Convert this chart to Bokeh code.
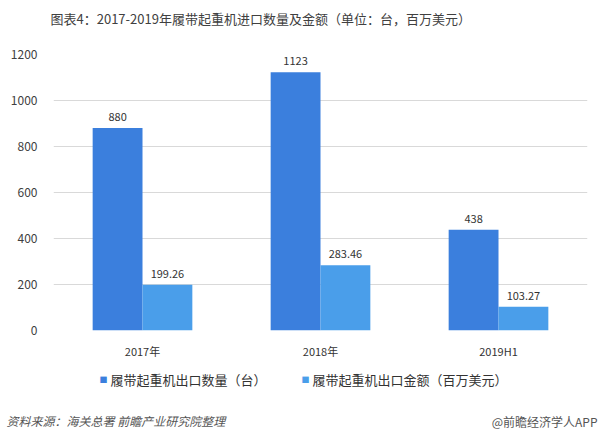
from bokeh.plotting import figure
from bokeh.layouts import column
from bokeh.models import ColumnDataSource, FactorRange, Range1d, LabelSet, Label, FixedTicker
from bokeh.transform import dodge
from bokeh.core.properties import value
from bokeh.embed import file_html
from bokeh.resources import INLINE

categories = ["2017年", "2018年", "2019H1"]
quantity = [880, 1123, 438]
amount = [199.26, 283.46, 103.27]
quantity_labels = ["880", "1123", "438"]
amount_labels = ["199.26", "283.46", "103.27"]
y_ticks = [0, 200, 400, 600, 800, 1000, 1200]

title_text = "图表4：2017-2019年履带起重机进口数量及金额（单位：台，百万美元）"
series_names = ["履带起重机出口数量（台）", "履带起重机出口金额（百万美元）"]
source_text = "资料来源：海关总署 前瞻产业研究院整理"
brand_text = "@前瞻经济学人APP"

FONT = "Noto Sans CJK SC"
DARK = "#3b7fdd"
LIGHT = "#4a9eea"
colors = [DARK, LIGHT]


def text_strip(h):
    f = figure(width=600, height=h, x_range=Range1d(0, 600), y_range=Range1d(0, h),
               min_border=0, output_backend="svg", toolbar_location=None,
               x_axis_type=None, y_axis_type=None, outline_line_color=None,
               background_fill_color="white", border_fill_color="white",
               frame_align=False)
    f.grid.visible = False
    return f


# ---- title strip (36 px) ----
top = text_strip(36)
top.add_layout(Label(x=50, y=18, text=title_text, text_font=FONT,
                     text_font_size="13px", text_color="#404040",
                     text_baseline="middle"))

# ---- main chart (326 px) ----
src = ColumnDataSource(dict(cat=categories, q=quantity, a=amount,
                            ql=quantity_labels, al=amount_labels))

p = figure(x_range=FactorRange(*categories, range_padding=0),
           y_range=Range1d(0, 1200),
           frame_width=534, frame_height=276,
           min_border_left=53, min_border_right=13,
           min_border_top=18, min_border_bottom=32,
           output_backend="svg", toolbar_location=None,
           background_fill_color="white", border_fill_color="white",
           outline_line_color=None, frame_align=False)

p.vbar(x=dodge("cat", -0.14, range=p.x_range), top="q", width=0.28,
       source=src, fill_color=DARK, line_color=None)
p.vbar(x=dodge("cat", 0.14, range=p.x_range), top="a", width=0.28,
       source=src, fill_color=LIGHT, line_color=None)

for col, lab, off in [("q", "ql", -0.14), ("a", "al", 0.14)]:
    ls = LabelSet(x=dodge("cat", off, range=p.x_range), y=col, text=lab, source=src,
                  text_align="center", text_baseline="bottom", y_offset=7,
                  text_font=value(FONT), text_font_size=value("11px"),
                  text_color="#333333")
    p.add_layout(ls)

p.yaxis.ticker = FixedTicker(ticks=y_ticks)
p.yaxis.axis_line_color = None
p.yaxis.major_tick_line_color = None
p.yaxis.minor_tick_line_color = None
p.yaxis.major_tick_out = 0
p.yaxis.major_label_standoff = 16
p.yaxis.major_label_text_font = FONT
p.yaxis.major_label_text_font_size = "12px"
p.yaxis.major_label_text_color = "#404040"

p.xaxis.axis_line_color = None
p.xaxis.major_tick_line_color = None
p.xaxis.minor_tick_line_color = None
p.xaxis.major_label_standoff = 6
p.xaxis.major_label_text_font = FONT
p.xaxis.major_label_text_font_size = "11px"
p.xaxis.major_label_text_color = "#333333"

p.xgrid.grid_line_color = None
p.ygrid.grid_line_color = "#d9d9d9"

# ---- legend + footer strip (77 px) ----
bot = text_strip(77)
for (sq_x, tx_x), name, c in zip([(99, 110), (301, 312)], series_names, colors):
    bot.add_layout(Label(x=sq_x, y=60.5, text="■", text_font=FONT,
                         text_font_size="8px", text_color=c, text_baseline="middle"))
    bot.add_layout(Label(x=tx_x, y=60.5, text=name, text_font=FONT,
                         text_font_size="13px", text_color="#333333",
                         text_baseline="middle"))
bot.add_layout(Label(x=6, y=19, text=source_text, text_font=FONT,
                     text_font_size="12px", text_color="#555555",
                     text_font_style="italic", text_baseline="middle"))
bot.add_layout(Label(x=597, y=18, text=brand_text, text_font=FONT,
                     text_font_size="12px", text_color="#555555",
                     text_align="right", text_baseline="middle"))

layout = column(top, p, bot, spacing=0)
open("out.html", "w").write(file_html(layout, INLINE))
